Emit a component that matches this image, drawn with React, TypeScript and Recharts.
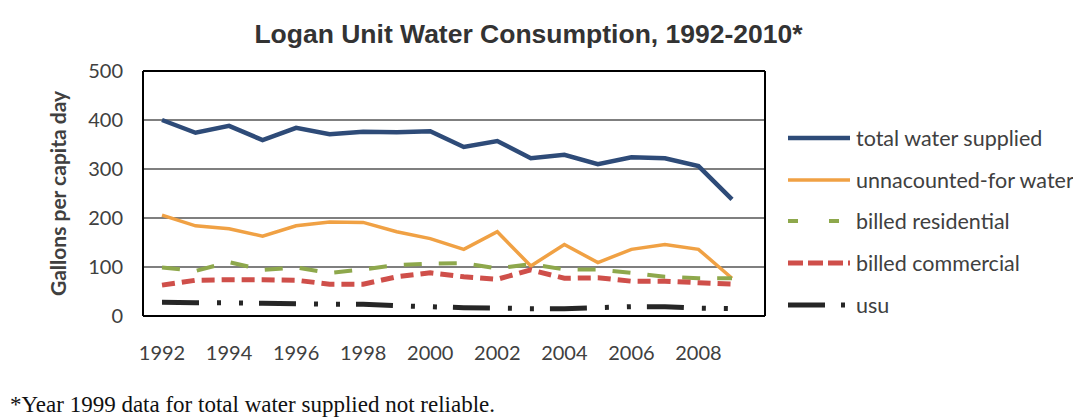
import { LineChart, Line, XAxis, YAxis, CartesianGrid, Legend } from 'recharts';

const years = ['1992', '1993', '1994', '1995', '1996', '1997', '1998', '1999', '2000',
  '2001', '2002', '2003', '2004', '2005', '2006', '2007', '2008', '2009'];
const totalSupplied = [400, 374, 388, 359, 384, 371, 376, 375, 377, 345, 357, 322, 329, 310, 324, 322, 306, 238];
const unaccounted = [206, 184, 178, 163, 184, 192, 191, 172, 158, 136, 172, 102, 146, 109, 136, 146, 136, 77];
const billedResidential = [99, 92, 110, 94, 99, 88, 95, 104, 107, 108, 97, 106, 95, 95, 88, 80, 77, 77];
const billedCommercial = [63, 73, 74, 74, 73, 65, 65, 80, 88, 80, 75, 94, 77, 78, 71, 71, 68, 65];
const usu = [28, 27, 27, 26, 25, 24, 24, 21, 19, 17, 16, 15, 15, 17, 19, 19, 16, 15];
const yTicks = [0, 100, 200, 300, 400, 500];

const data = years.map((year, i) => ({
  year,
  total: totalSupplied[i],
  unaccounted: unaccounted[i],
  residential: billedResidential[i],
  commercial: billedCommercial[i],
  usu: usu[i],
}));

const series = [
  { key: 'total', name: 'total water supplied', color: '#2e4b78', width: 4.5, dash: undefined, legendDash: undefined },
  { key: 'unaccounted', name: 'unnacounted-for water', color: '#f0a144', width: 3.5, dash: undefined, legendDash: undefined },
  { key: 'residential', name: 'billed residential', color: '#8ea84c', width: 4, dash: '18 17', legendDash: '10 31' },
  { key: 'commercial', name: 'billed commercial', color: '#cf4f4a', width: 5, dash: '13 7', legendDash: '15 5' },
  { key: 'usu', name: 'usu', color: '#262626', width: 5, dash: '37 18 4 18 4 16', legendDash: '37 16 4 40' },
];

const font = 'Lato, "Open Sans", sans-serif';

const renderLegend = () => (
  <div style={{ fontFamily: font, fontSize: 21.5, color: '#404040' }}>
    {series.map((s) => (
      <div key={s.key} style={{ height: 41.7, display: 'flex', alignItems: 'center', whiteSpace: 'nowrap' }}>
        <svg width={66} height={10} style={{ marginRight: 2 }}>
          <line x1={0} y1={5} x2={62} y2={5} stroke={s.color} strokeWidth={s.width}
            strokeDasharray={s.legendDash} />
        </svg>
        <span>{s.name}</span>
      </div>
    ))}
  </div>
);

// frame around the plot area, taken from the chart's own offset
const frameX = ({ offset }: any) => [offset.left, offset.left + offset.width];
const frameY = ({ offset }: any) => [offset.top, offset.top + offset.height];

export default function App() {
  return (
    <div style={{ position: 'absolute', left: 0, top: 0, width: 1073, height: 417, background: '#fff' }}>
      <div style={{
        position: 'absolute', left: 0, width: 1073, top: 19, textAlign: 'center',
        fontFamily: '"Liberation Sans", Arial, sans-serif', fontWeight: 'bold', fontSize: 26.5, color: '#333',
      }}>
        <span style={{ position: 'relative', left: -8 }}>Logan Unit Water Consumption, 1992-2010*</span>
      </div>
      <LineChart width={1073} height={417} data={data}
        margin={{ top: 71, right: 308, bottom: 51, left: 83 }}>
        <CartesianGrid horizontal vertical={false} stroke="#555" strokeWidth={1.3} />
        <CartesianGrid horizontal vertical stroke="#000" strokeWidth={2}
          horizontalCoordinatesGenerator={frameY} verticalCoordinatesGenerator={frameX} />
        <XAxis dataKey="year" interval={1} tickLine={false} axisLine={{ stroke: '#000', strokeWidth: 2 }}
          tickMargin={24} height={50} padding={{ left: 19, right: 33 }}
          tick={{ fill: '#404040', fontSize: 20, fontFamily: font }} />
        <YAxis domain={[0, 500]} ticks={yTicks} width={60} tickLine={false} tickMargin={14}
          axisLine={{ stroke: '#000', strokeWidth: 2 }}
          tick={{ fill: '#404040', fontSize: 20, fontFamily: font }}
          label={{
            content: (props: any) => {
              const vb = props.viewBox;
              const cx = vb.x - 26;
              const cy = vb.y + vb.height / 2;
              return (
                <text x={cx} y={cy} transform={`rotate(-90 ${cx} ${cy})`} textAnchor="middle"
                  dominantBaseline="central" fill="#404040" fontFamily={font} fontWeight="bold" fontSize={21}>
                  Gallons per capita day
                </text>
              );
            },
          }} />
        {series.map((s) => (
          <Line key={s.key} type="linear" dataKey={s.key} name={s.name} stroke={s.color}
            strokeWidth={s.width} strokeDasharray={s.dash} dot={false} activeDot={false}
            isAnimationActive={false} />
        ))}
        <Legend layout="vertical" align="center" verticalAlign="middle" content={renderLegend}
          wrapperStyle={{ left: 788, top: 117, width: 290 }} />
      </LineChart>
      <div style={{
        position: 'absolute', left: 10, top: 392, fontFamily: '"Liberation Serif", "Times New Roman", serif',
        fontSize: 23, color: '#111', whiteSpace: 'nowrap',
      }}>
        *Year 1999 data for total water supplied not reliable.
      </div>
    </div>
  );
}
